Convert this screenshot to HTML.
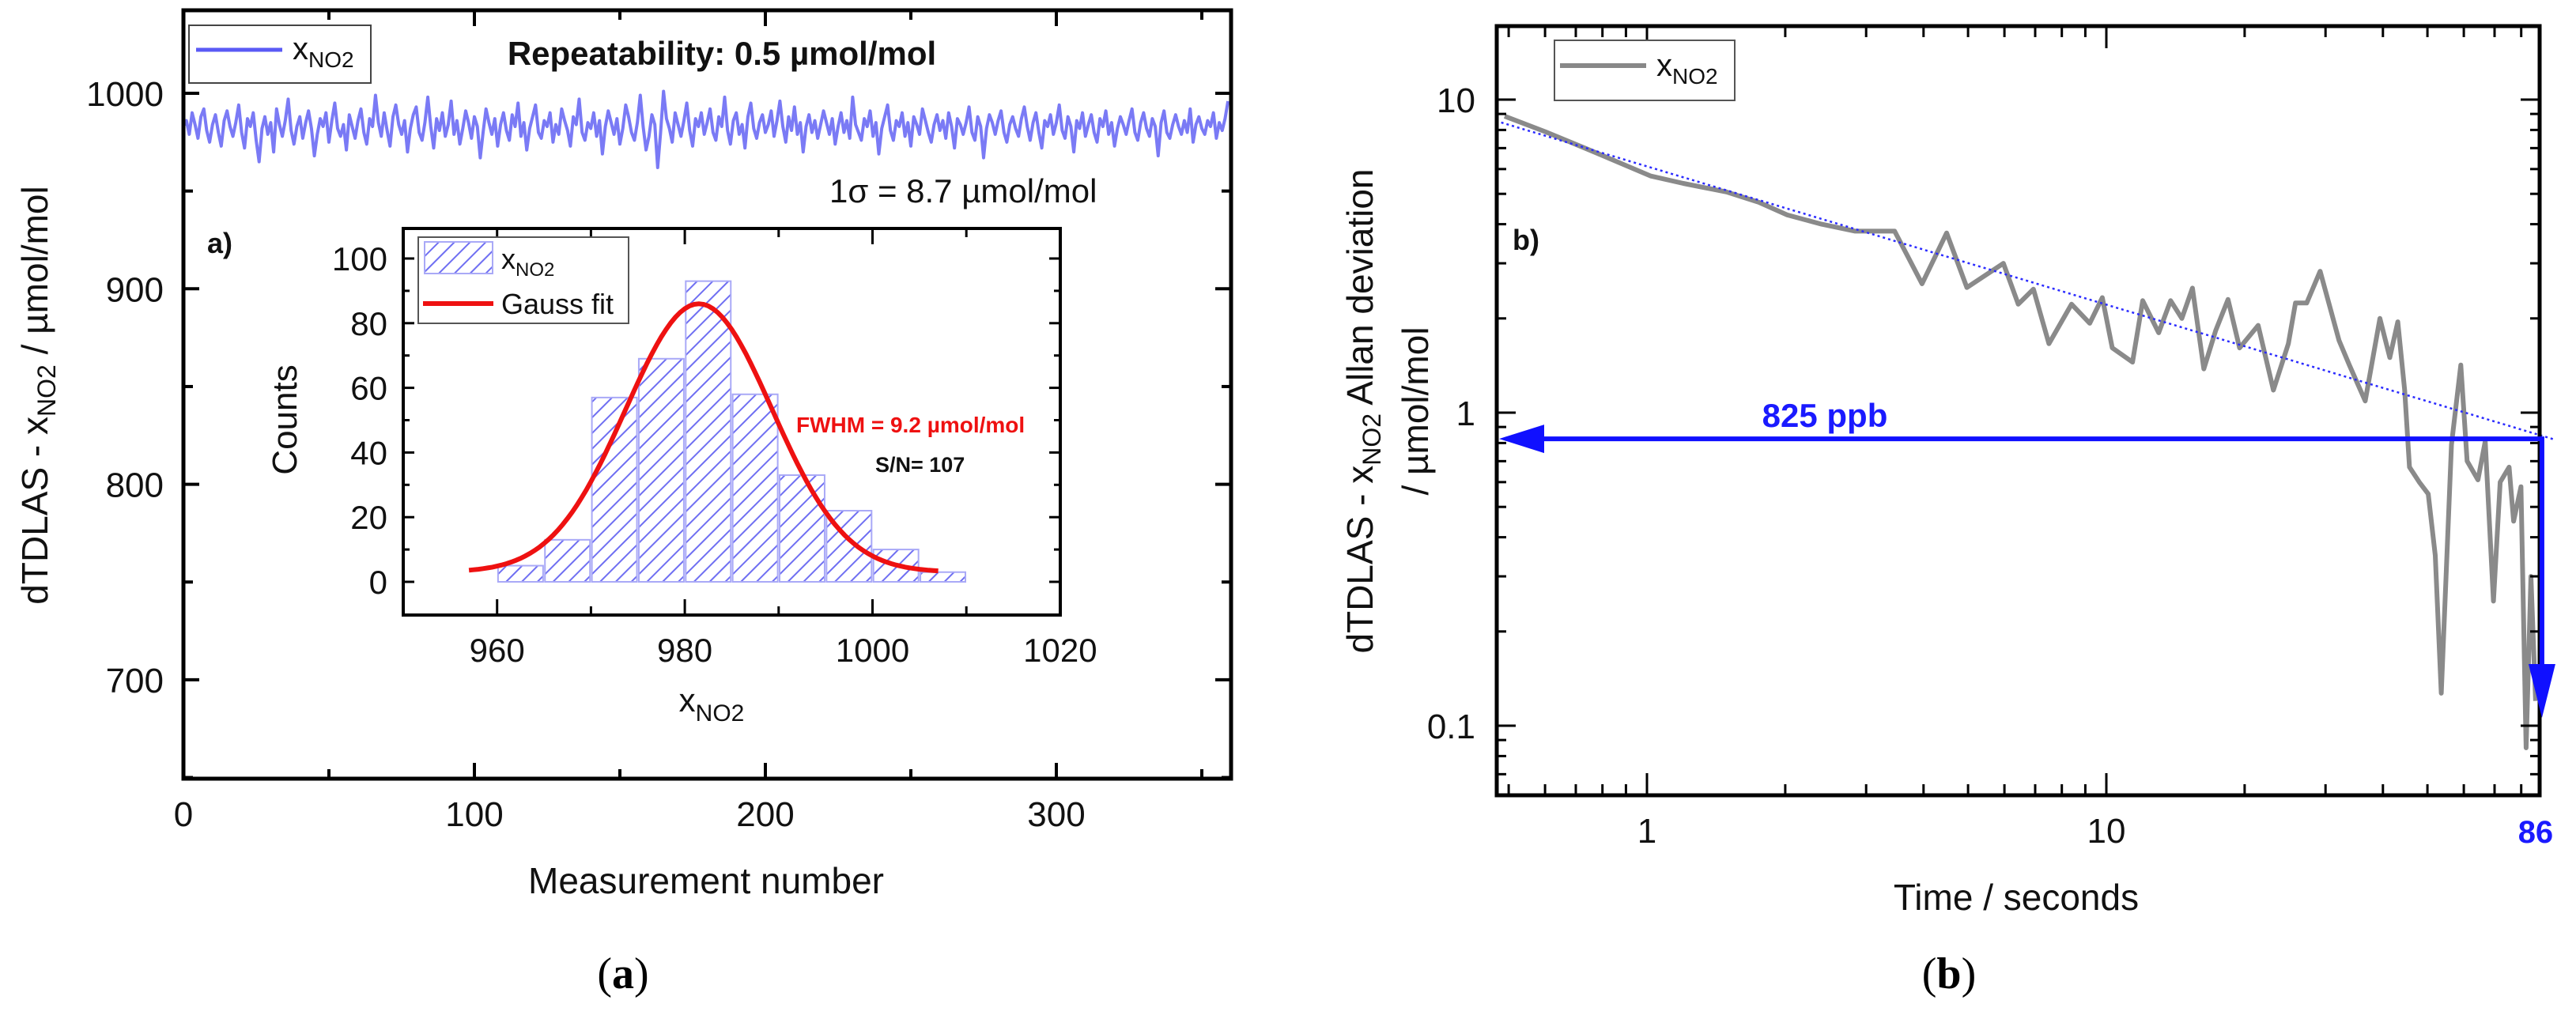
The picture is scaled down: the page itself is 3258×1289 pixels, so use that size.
<!DOCTYPE html>
<html><head><meta charset="utf-8"><title>NO2 repeatability and Allan deviation</title>
<style>
html,body{margin:0;padding:0;background:#fff;}
svg{display:block;font-family:"Liberation Sans",Arial,sans-serif;}
</style></head>
<body>
<svg id="fig" width="3258" height="1289" viewBox="0 0 3258 1289" xmlns="http://www.w3.org/2000/svg">
<defs>
<pattern id="hatch" patternUnits="userSpaceOnUse" width="14" height="14" patternTransform="rotate(-45)">
<rect width="14" height="14" fill="#fff"/>
<line x1="0" y1="7" x2="14" y2="7" stroke="#6f6ff2" stroke-width="2"/>
</pattern>
<clipPath id="clipA"><rect x="232" y="13" width="1325" height="972"/></clipPath>
<clipPath id="clipB"><rect x="1893" y="33" width="1319" height="973"/></clipPath>
</defs>
<g id="panelA"></g>
<g id="panelB"></g>
</svg>
<script>
// ---------- Panel a data ----------
const noiseValues = [
983,986,979,990,984,977,988,992,981,975,984,989,980,973,986,991,983,978,985,994,
980,972,987,983,990,976,965,982,988,979,985,970,992,984,978,986,997,981,974,983,
988,977,985,991,982,968,979,987,983,990,975,986,995,982,978,984,971,989,983,977,
986,992,980,974,987,983,999,985,978,990,981,973,988,994,984,979,986,970,982,989,
993,980,976,985,998,983,972,987,981,990,978,984,996,979,986,974,982,991,985,977,
988,983,967,980,992,985,979,987,973,984,990,981,976,989,983,995,978,985,971,982,
988,994,980,977,986,983,990,975,984,979,992,986,981,973,988,984,997,980,976,985,
982,990,978,986,969,983,991,985,979,987,974,982,994,988,980,976,985,999,983,971,
978,989,984,962,980,1001,987,982,975,990,984,978,986,995,981,973,987,983,990,979,
985,992,980,976,988,983,998,981,974,986,990,979,984,972,988,995,982,977,985,989,
980,984,991,978,986,996,983,975,988,981,993,979,985,970,983,989,980,986,977,984,
991,985,979,987,974,983,990,980,986,977,998,984,980,976,987,983,991,978,985,969,
982,988,994,981,976,986,983,990,978,985,973,988,984,979,992,986,980,975,984,989,
981,986,977,990,983,972,987,984,979,985,993,980,976,988,983,967,982,989,985,979,
986,991,980,975,984,988,982,978,987,993,983,976,985,990,980,972,986,983,989,979,
985,994,981,977,988,983,970,986,982,990,978,984,989,980,975,987,983,991,979,985,
973,982,988,984,979,986,992,980,976,985,990,982,978,987,983,968,985,991,980,977,
984,989,983,979,986,980,992,975,984,988,982,979,986,983,990,977,985,981,987,996
];
const histCenters = [962.5,967.5,972.5,977.5,982.5,987.5,992.5,997.5,1002.5,1007.5];
const histCounts  = [5,13,57,69,93,58,33,22,10,3];
const gaussParams = [3, 83, 981.5, 7.8]; // offset, amplitude, centre, sigma
const mainXTicks = [0,100,200,300];
const mainYTicks = [700,800,900,1000];
const insetXTicks = [960,980,1000,1020];
const insetYTicks = [0,20,40,60,80,100];

// ---------- Panel b data ----------
const allanTau = [0.49,0.6,0.75,1.02,1.2,1.49,1.75,2.02,2.4,2.84,3.46,3.97,4.49,4.97,5.97,6.43,6.94,7.5,8.4,9.2,9.8,10.3,11.4,12.0,13.0,13.8,14.6,15.4,16.3,17.3,18.4,19.5,21.4,23.1,24.9,25.8,27.3,29.2,32.1,33.8,36.6,39.4,41.4,43.1,44.6,45.7,48,50.2,52,53.6,56.4,59.1,61,64.4,66.8,69.6,72,75.3,77,79.9,82,84,86];
const allanDev = [8.85,7.9,6.9,5.7,5.4,5.07,4.7,4.28,4.0,3.8,3.8,2.58,3.75,2.51,3.0,2.22,2.48,1.66,2.22,1.93,2.33,1.61,1.45,2.28,1.8,2.28,2.0,2.5,1.38,1.83,2.3,1.61,1.9,1.18,1.66,2.24,2.24,2.83,1.7,1.42,1.09,2.0,1.5,1.95,1.18,0.67,0.6,0.55,0.35,0.127,0.79,1.42,0.7,0.61,0.81,0.25,0.6,0.67,0.45,0.58,0.085,0.3,0.12];
const fitTau = [0.469, 88];
const fitDev = [8.55, 0.84];
const limitTau = [86];
const limitDev = [0.825];
const bXTicks = [1,10];
const bYTicks = [0.1,1,10];

const NS = "http://www.w3.org/2000/svg";
function mk(parent, tag, attrs, text){
  const e = document.createElementNS(NS, tag);
  for (const k in attrs) e.setAttribute(k, attrs[k]);
  if (text !== undefined) e.textContent = text;
  parent.appendChild(e);
  return e;
}

// ================= PANEL A =================
const A = document.getElementById('panelA');
const ax = v => 232 + (v - 0) * 3.68;
const ay = v => 118 + (1000 - v) * 2.473;
const ix = v => 510 + (v - 950) * 11.87;
const iy = v => 736 - v * 4.09;

// noise line
let d = '';
noiseValues.forEach((v, i) => { d += (i ? 'L' : 'M') + ax(i).toFixed(1) + ' ' + ay(v).toFixed(1); });
const nl = mk(A, 'path', {d: d, fill: 'none', stroke: '#7a7af5', 'stroke-width': 4, 'stroke-linejoin': 'round', 'clip-path': 'url(#clipA)'});



// main frame
const fa = mk(A, 'rect', {x: 232, y: 13, width: 1325, height: 972, fill: 'none', stroke: '#000', 'stroke-width': 5});



// x ticks main
for (let v = 0; v <= 350; v += 50) {
  const major = v % 100 === 0;
  const len = major ? 20 : 12;
  mk(A, 'line', {x1: ax(v), y1: 985, x2: ax(v), y2: 985 - len, stroke: '#000', 'stroke-width': 4});
  mk(A, 'line', {x1: ax(v), y1: 13, x2: ax(v), y2: 13 + len, stroke: '#000', 'stroke-width': 4});
}
mainXTicks.forEach(v => {
  const t = mk(A, 'text', {x: ax(v), y: 1045, 'font-size': 44, 'text-anchor': 'middle', fill: '#111'}, String(v));
  
  
});
for (let v = 650; v <= 1000; v += 50) {
  const major = v % 100 === 0;
  const len = major ? 20 : 12;
  mk(A, 'line', {x1: 232, y1: ay(v), x2: 232 + len, y2: ay(v), stroke: '#000', 'stroke-width': 4});
  mk(A, 'line', {x1: 1557, y1: ay(v), x2: 1557 - len, y2: ay(v), stroke: '#000', 'stroke-width': 4});
}
mainYTicks.forEach(v => {
  const t = mk(A, 'text', {x: 207, y: ay(v) + 16, 'font-size': 44, 'text-anchor': 'end', fill: '#111'}, String(v));
  
  
});
</script>
<script>
// static text panel a
(function(){
const A = document.getElementById('panelA');
const NS = "http://www.w3.org/2000/svg";
const g = document.createElementNS(NS, 'g');
g.innerHTML = `
<text x="893" y="1130" font-size="46" text-anchor="middle" fill="#111">Measurement number</text>
<text x="788" y="1250" font-size="56" text-anchor="middle" font-family="Liberation Serif, serif" fill="#000">(<tspan font-weight="bold">a</tspan>)</text>
<text transform="translate(60,500) rotate(-90)" font-size="46" text-anchor="middle" fill="#111">dTDLAS - x<tspan font-size="32" dy="10">NO2</tspan><tspan dy="-10"> / µmol/mol</tspan></text>
<g>
<rect x="239" y="32" width="230" height="73" fill="#fff" stroke="#444" stroke-width="2"/>
<line x1="248" y1="63" x2="357" y2="63" stroke="#5a5af5" stroke-width="5"/>
<text x="370" y="75" font-size="40" fill="#111">x<tspan font-size="28" dy="10">NO2</tspan></text>
</g>
<text x="913" y="82" font-size="42" font-weight="bold" text-anchor="middle" fill="#111">Repeatability: 0.5 µmol/mol</text>
<text x="1049" y="256" font-size="42" fill="#111">1σ = 8.7 µmol/mol</text>
<text x="262" y="320" font-size="36" font-weight="bold" fill="#111">a)</text>
`;
A.appendChild(g);
})();
</script>
<script>
// inset histogram
(function(){
const A = document.getElementById('panelA');
const ix = v => 510 + (v - 950) * 11.87;
const iy = v => 736 - v * 4.09;
const NS = "http://www.w3.org/2000/svg";
function mk(parent, tag, attrs, text){
  const e = document.createElementNS(NS, tag);
  for (const k in attrs) e.setAttribute(k, attrs[k]);
  if (text !== undefined) e.textContent = text;
  parent.appendChild(e); return e;
}
const bg = mk(A, 'rect', {x: 510, y: 289, width: 831, height: 489, fill: '#fff'});


histCenters.forEach((c, i) => {
  const x0 = ix(c - 2.4), x1 = ix(c + 2.4);
  const b = mk(A, 'rect', {x: x0, y: iy(histCounts[i]), width: x1 - x0, height: iy(0) - iy(histCounts[i]), fill: 'url(#hatch)', stroke: '#a9a9f7', 'stroke-width': 2});
  
  
});
let d = '';
for (let k = 0; k <= 100; k++) {
  const x = 957 + k * 0.5;
  const [o, a, m, s] = gaussParams;
  const y = o + a * Math.exp(-((x - m) ** 2) / (2 * s * s));
  d += (k ? 'L' : 'M') + ix(x).toFixed(1) + ' ' + iy(y).toFixed(1);
}
const gl = mk(A, 'path', {d: d, fill: 'none', stroke: '#ee1111', 'stroke-width': 6});


const fr = mk(A, 'rect', {x: 510, y: 289, width: 831, height: 489, fill: 'none', stroke: '#000', 'stroke-width': 4});


for (let v = 960; v <= 1010; v += 10) {
  const len = v % 20 === 0 ? 20 : 11;
  mk(A, 'line', {x1: ix(v), y1: 778, x2: ix(v), y2: 778 - len, stroke: '#000', 'stroke-width': 3});
  mk(A, 'line', {x1: ix(v), y1: 289, x2: ix(v), y2: 289 + len, stroke: '#000', 'stroke-width': 3});
}
insetXTicks.forEach(v => {
  const t = mk(A, 'text', {x: ix(v), y: 837, 'font-size': 42, 'text-anchor': 'middle', fill: '#111'}, String(v));
  
  
});
for (let v = 0; v <= 100; v += 10) {
  const len = v % 20 === 0 ? 14 : 8;
  mk(A, 'line', {x1: 510, y1: iy(v), x2: 510 + len, y2: iy(v), stroke: '#000', 'stroke-width': 3});
  mk(A, 'line', {x1: 1341, y1: iy(v), x2: 1341 - len, y2: iy(v), stroke: '#000', 'stroke-width': 3});
}
insetYTicks.forEach(v => {
  const t = mk(A, 'text', {x: 490, y: iy(v) + 15, 'font-size': 42, 'text-anchor': 'end', fill: '#111'}, String(v));
  
  
});
const g = document.createElementNS(NS, 'g');
g.innerHTML = `
<text x="900" y="900" font-size="42" text-anchor="middle" fill="#111">x<tspan font-size="30" dy="12">NO2</tspan></text>
<text transform="translate(375,531) rotate(-90)" font-size="44" text-anchor="middle" fill="#111">Counts</text>
<g>
<rect x="529" y="300" width="266" height="109" fill="#fff" stroke="#555" stroke-width="2"/>
<rect x="537" y="306" width="86" height="40" fill="url(#hatch)" stroke="#a9a9f7" stroke-width="2"/>
<text x="634" y="340" font-size="36" fill="#111">x<tspan font-size="24" dy="9">NO2</tspan></text>
<line x1="535" y1="384" x2="624" y2="384" stroke="#ee1111" stroke-width="6"/>
<text x="634" y="397" font-size="36" fill="#111">Gauss fit</text>
</g>
<text x="1007" y="547" font-size="28" font-weight="bold" fill="#ee1111">FWHM = 9.2 µmol/mol</text>
<text x="1107" y="597" font-size="27" font-weight="bold" fill="#111">S/N= 107</text>
`;
A.appendChild(g);
})();
</script>
<script>
// ================= PANEL B =================
(function(){
const B = document.getElementById('panelB');
const NS = "http://www.w3.org/2000/svg";
function mk(parent, tag, attrs, text){
  const e = document.createElementNS(NS, tag);
  for (const k in attrs) e.setAttribute(k, attrs[k]);
  if (text !== undefined) e.textContent = text;
  parent.appendChild(e); return e;
}
const bx = v => 2083 + Math.log10(v) * 581;
const by = v => 522 - Math.log10(v) * 396;
const L = 1893, R = 3212, T = 33, Bt = 1006;

let d = '';
allanTau.forEach((t, i) => { d += (i ? 'L' : 'M') + bx(t).toFixed(1) + ' ' + by(allanDev[i]).toFixed(1); });
const al = mk(B, 'path', {d: d, fill: 'none', stroke: '#8a8a8a', 'stroke-width': 6, 'stroke-linejoin': 'round', 'clip-path': 'url(#clipB)'});



const fl = mk(B, 'line', {x1: bx(fitTau[0]), y1: by(fitDev[0]), x2: bx(fitTau[1]) + 18, y2: by(fitDev[1]) + 4, stroke: '#2b2bff', 'stroke-width': 2.5, 'stroke-dasharray': '3 4'});



const fr = mk(B, 'rect', {x: L, y: T, width: R - L, height: Bt - T, fill: 'none', stroke: '#000', 'stroke-width': 5});



// x ticks (log)
for (let dec = 0.1; dec <= 10; dec *= 10) {
  for (let m = 1; m <= 9; m++) {
    const v = dec * m;
    const x = bx(v);
    if (x < L || x > R) continue;
    const len = m === 1 ? 28 : 14;
    mk(B, 'line', {x1: x, y1: Bt, x2: x, y2: Bt - len, stroke: '#000', 'stroke-width': 3});
    mk(B, 'line', {x1: x, y1: T, x2: x, y2: T + len, stroke: '#000', 'stroke-width': 3});
  }
}
bXTicks.forEach(v => {
  const t = mk(B, 'text', {x: bx(v), y: 1066, 'font-size': 44, 'text-anchor': 'middle', fill: '#111'}, String(v));
  
  
});
const t86 = mk(B, 'text', {x: bx(limitTau[0]), y: 1066, 'font-size': 40, 'font-weight': 'bold', 'text-anchor': 'middle', fill: '#1a1aff'}, String(limitTau[0]));


// y ticks (log)
for (let dec = 0.01; dec <= 10; dec *= 10) {
  for (let m = 1; m <= 9; m++) {
    const v = dec * m;
    const y = by(v);
    if (y < T || y > Bt) continue;
    const len = m === 1 ? 24 : 12;
    mk(B, 'line', {x1: L, y1: y, x2: L + len, y2: y, stroke: '#000', 'stroke-width': 3});
    mk(B, 'line', {x1: R, y1: y, x2: R - len, y2: y, stroke: '#000', 'stroke-width': 3});
  }
}
bYTicks.forEach(v => {
  const t = mk(B, 'text', {x: 1866, y: by(v) + 16, 'font-size': 44, 'text-anchor': 'end', fill: '#111'}, String(v));
  
  
});

// arrows
const ay0 = by(limitDev[0]);
const xr = bx(limitTau[0]) + 8;
const h = mk(B, 'line', {x1: xr, y1: ay0, x2: L + 55, y2: ay0, stroke: '#1010ff', 'stroke-width': 6});


const hh = mk(B, 'polygon', {points: `${L+3},${ay0} ${L+60},${ay0-18} ${L+60},${ay0+18}`, fill: '#1010ff'});


const v = mk(B, 'line', {x1: xr, y1: ay0 - 3, x2: xr, y2: 845, stroke: '#1010ff', 'stroke-width': 6});


const vh = mk(B, 'polygon', {points: `${xr-17},840 ${xr+17},840 ${xr},908`, fill: '#1010ff'});



const g = document.createElementNS(NS, 'g');
g.innerHTML = `
<text x="2308" y="540" font-size="42" font-weight="bold" text-anchor="middle" fill="#1a1aff">825 ppb</text>
<text x="1913" y="316" font-size="36" font-weight="bold" fill="#111">b)</text>
<g>
<rect x="1966" y="51" width="228" height="76" fill="#fff" stroke="#555" stroke-width="2"/>
<line x1="1973" y1="83" x2="2082" y2="83" stroke="#888" stroke-width="6"/>
<text x="2095" y="96" font-size="40" fill="#111">x<tspan font-size="28" dy="10">NO2</tspan></text>
</g>
<text x="2550" y="1151" font-size="46" text-anchor="middle" fill="#111">Time / seconds</text>
<text x="2465" y="1250" font-size="56" text-anchor="middle" font-family="Liberation Serif, serif" fill="#000">(<tspan font-weight="bold">b</tspan>)</text>
<text transform="translate(1736,520) rotate(-90)" font-size="46" text-anchor="middle" fill="#111">dTDLAS - x<tspan font-size="32" dy="10">NO2</tspan><tspan dy="-10"> Allan deviation</tspan></text>
<text transform="translate(1806,520) rotate(-90)" font-size="46" text-anchor="middle" fill="#111">/ µmol/mol</text>
`;
B.appendChild(g);
})();
</script>
</body></html>
